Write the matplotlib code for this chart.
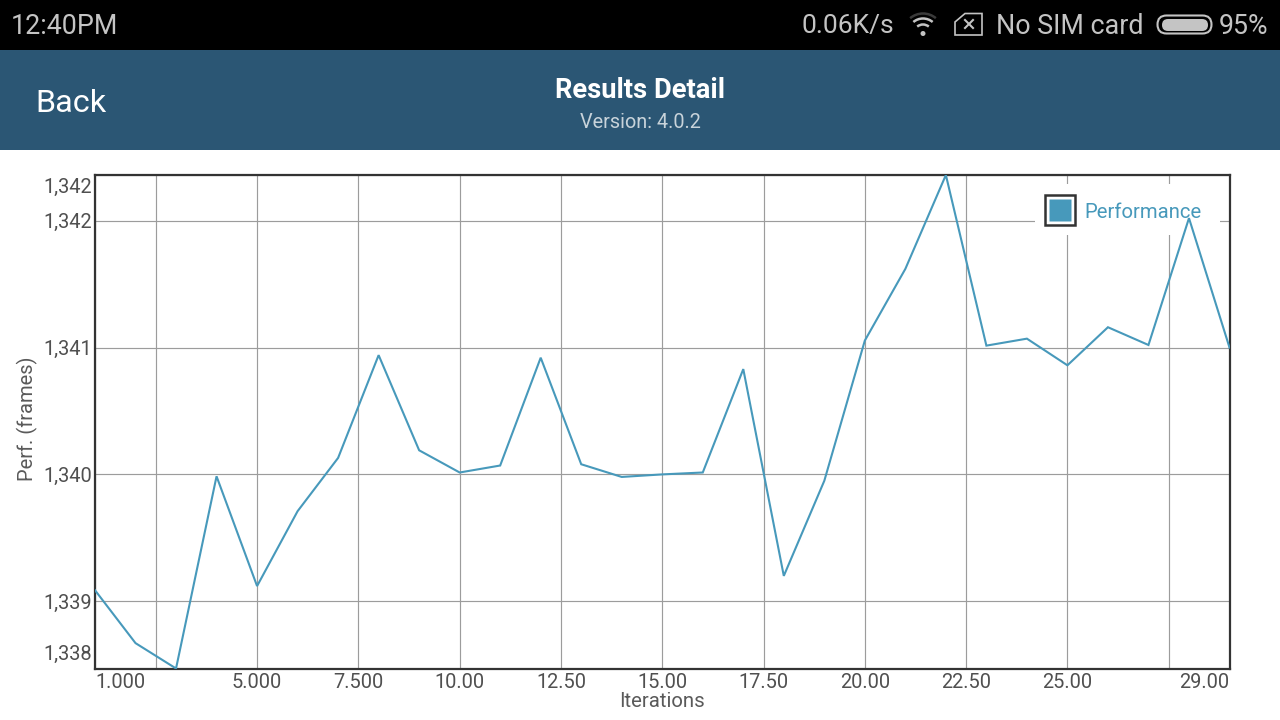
import matplotlib
matplotlib.use("Agg")
import matplotlib.pyplot as plt
from matplotlib.lines import Line2D
from matplotlib.legend_handler import HandlerTuple
from matplotlib.patches import Rectangle, FancyBboxPatch, Polygon, Arc, Circle
from matplotlib.transforms import ScaledTranslation

plt.rcParams['font.family'] = ['Roboto', 'DejaVu Sans']

iterations = list(range(1, 30))
performance = [1339.087, 1338.67, 1338.47, 1339.985, 1339.12, 1339.71, 1340.13, 1340.94,
               1340.19, 1340.015, 1340.07, 1340.92, 1340.08, 1339.98, 1340.0, 1340.015,
               1340.83, 1339.2, 1339.95, 1341.055, 1341.62, 1342.36, 1341.015, 1341.07,
               1340.86, 1341.16, 1341.02, 1342.02, 1341.0]
x_ticks = [1, 2.5, 5, 7.5, 10, 12.5, 15, 17.5, 20, 22.5, 25, 27.5, 29]
x_labels = ['1.000', '', '5.000', '7.500', '10.00', '12.50', '15.00', '17.50', '20.00',
            '22.50', '25.00', '', '29.00']
y_ticks = [1338.47, 1339, 1340, 1341, 1342, 1342.36]
y_labels = ['1,338', '1,339', '1,340', '1,341', '1,342', '1,342']

W, H = 1280, 720
fig = plt.figure(figsize=(W / 100, H / 100), dpi=100, facecolor='white')

# Phone chrome, drawn in pixel coordinates
ui = fig.add_axes([0, 0, 1, 1], zorder=0)
ui.set_xlim(0, W); ui.set_ylim(H, 0); ui.axis('off')
ui.add_patch(Rectangle((0, 0), W, 50, fc='black', ec='none'))
ui.add_patch(Rectangle((0, 50), W, 100, fc='#2b5674', ec='none'))
STATUS = '#c4c4c4'
ui.text(11, 26.5, '12:40PM', color=STATUS, fontsize=19.4, va='center', ha='left')
ui.text(801.5, 26.5, '0.06K/s', color=STATUS, fontsize=19, va='center', ha='left')
ui.text(996, 26.5, 'No SIM card', color=STATUS, fontsize=19.4, va='center', ha='left')
ui.text(1219, 26.5, '95%', color=STATUS, fontsize=19.3, va='center', ha='left')
ui.text(35, 103.5, 'Back', color='white', fontsize=23.3, va='center', ha='left')
ui.text(640, 90, 'Results Detail', color='white', fontsize=19.7, fontweight='bold', va='center', ha='center')
ui.text(640, 122, 'Version: 4.0.2', color='#c8d3da', fontsize=14.3, va='center', ha='center')
# wifi icon
ui.add_patch(Circle((923, 33.5), 2.5, fc=STATUS, ec='none'))
for d, col in [(18, STATUS), (30, STATUS), (40, '#3a3a3a')]:
    ui.add_patch(Arc((923, 33.5), d, d, theta1=-130, theta2=-50, ec=col, lw=1.8))
# SIM icon
ui.add_patch(Polygon([(955, 35), (955, 22), (965, 13.5), (982, 13.5), (982, 35)], closed=True,
                     fc='none', ec=STATUS, lw=1.2))
ui.plot([965, 973], [20, 28], color=STATUS, lw=1.5)
ui.plot([973, 965], [20, 28], color=STATUS, lw=1.5)
# battery icon
ui.add_patch(FancyBboxPatch((1157.5, 15.5), 54, 18, boxstyle='round,pad=0,rounding_size=9',
                            fc='none', ec=STATUS, lw=1.5))
ui.add_patch(FancyBboxPatch((1162, 19), 46, 12, boxstyle='round,pad=0,rounding_size=6',
                            fc=STATUS, ec='none'))

# Chart
L, R, T, B = 95, 1229.5, 175, 668.5
ax = fig.add_axes([L / W, 1 - B / H, (R - L) / W, (B - T) / H], zorder=1)
ax.set_xlim(1, 29)
ax.set_ylim(1338.47, 1342.36)
ax.set_axisbelow(True)
ax.grid(True, color='#9c9c9c', lw=0.85)
ax.plot(iterations, performance, color='#4799bb', lw=1.5, zorder=4, clip_on=True,
        solid_joinstyle='miter')

ax.set_xticks(x_ticks, x_labels)
ax.set_yticks(y_ticks, y_labels)
ax.tick_params(axis='y', length=0, labelsize=14.4, labelcolor='#505050', pad=2)
ax.tick_params(axis='x', length=0, labelsize=14.4, labelcolor='#505050', pad=3.5)
xl = ax.get_xticklabels()
xl[0].set_ha('left'); xl[-1].set_ha('right')
yl = ax.get_yticklabels()
yl[0].set_va('bottom'); yl[-1].set_va('top')
yl[0].set_transform(yl[0].get_transform() + ScaledTranslation(0, 5 / 100, fig.dpi_scale_trans))
yl[-1].set_transform(yl[-1].get_transform() + ScaledTranslation(0, -3 / 100, fig.dpi_scale_trans))
for s in ax.spines.values():
    s.set_color('#333333'); s.set_linewidth(1.6)

# Legend background sits above the grid and below the line
ax.add_patch(Rectangle(((1035 - L) / (R - L), (B - 235) / (B - T)), 185 / (R - L), 51 / (B - T),
                       transform=ax.transAxes, fc='white', ec='none', zorder=2))
outer = Line2D([], [], marker='s', ls='none', ms=21, mfc='white', mec='#333333', mew=1.8)
inner = Line2D([], [], marker='s', ls='none', ms=16, mfc='#4799bb', mec='none')
leg = ax.legend([(outer, inner)], ['Performance'], handler_map={tuple: HandlerTuple(ndivide=1, pad=0)},
                frameon=False, loc='center left', labelcolor='#4799bb', fontsize=14.6,
                bbox_to_anchor=((1044 - L) / (R - L), (B - 212) / (B - T)),
                handlelength=1.55, handletextpad=0.45, borderpad=0, borderaxespad=0)
leg.set_zorder(3)

fig.text(662 / W, 1 - 701.5 / H, 'Iterations', color='#5a5a5a', fontsize=14.7, ha='center', va='center')
fig.text(27 / W, 1 - 419 / H, 'Perf. (frames)', color='#5a5a5a', fontsize=14.5, rotation=90,
         ha='center', va='center')

fig.savefig('out.png', dpi=100)
